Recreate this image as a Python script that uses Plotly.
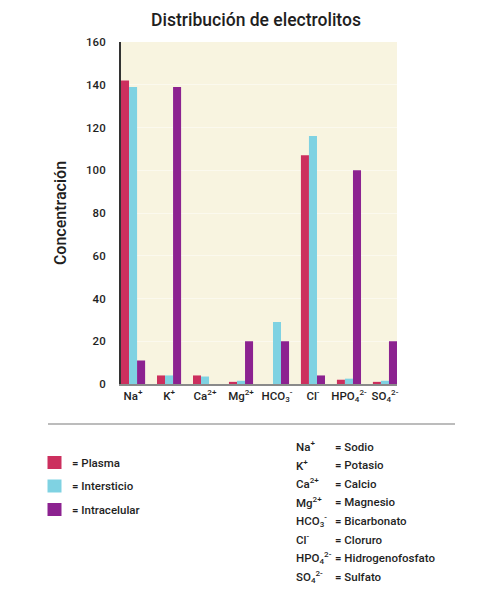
import plotly.graph_objects as go

categories = ["Na<sup>+</sup>", "K<sup>+</sup>", "Ca<sup>2+</sup>", "Mg<sup>2+</sup>",
              "HCO<sub>3</sub><sup>-</sup>", "Cl<sup>-</sup>", "HPO<sub>4</sub><sup>2-</sup>",
              "SO<sub>4</sub><sup>2-</sup>"]
plasma = [142, 4, 4, 1, 0, 107, 2, 1]
intersticio = [139, 4, 3.5, 1.5, 29, 116, 2.5, 1.5]
intracelular = [11, 139, 0, 20, 20, 4, 100, 20]

series_names = ["Plasma", "Intersticio", "Intracelular"]
series_colors = ["#cc2f5e", "#7fd2e2", "#8c2290"]

key_symbols = ["Na<sup>+</sup>", "K<sup>+</sup>", "Ca<sup>2+</sup>", "Mg<sup>2+</sup>",
               "HCO<sub>3</sub><sup>-</sup>", "Cl<sup>-</sup>", "HPO<sub>4</sub><sup>2-</sup>",
               "SO<sub>4</sub><sup>2-</sup>"]
key_names = ["Sodio", "Potasio", "Calcio", "Magnesio", "Bicarbonato", "Cloruro",
             "Hidrogenofosfato", "Sulfato"]

W, H = 504, 600
OFF = 8  # page body margin
FONT = "Roboto Medium, Roboto, sans-serif"
TXT = "#1f1f1f"
FS = 11.5

PL, PT, PW, PH = 121 - OFF, 42 - OFF, 276, 342
PB = PT + PH


def px(x):
    return (x - OFF - PL) / PW


def py(y):
    return (PB - (y - OFF)) / PH


fig = go.Figure()
for name, vals, col in zip(series_names, [plasma, intersticio, intracelular], series_colors):
    fig.add_trace(go.Bar(x=list(range(len(categories))), y=vals, name=name,
                         marker=dict(color=col, line=dict(width=0)), showlegend=False))

fig.update_layout(
    width=W, height=H,
    margin=dict(l=PL, r=W - PL - PW, t=PT, b=H - PB),
    paper_bgcolor="white",
    plot_bgcolor="#f8f4e0",
    barmode="group", bargap=0.33, bargroupgap=0,
    font=dict(family=FONT, color=TXT),
    title=dict(text="Distribución de electrolitos", x=(256 - OFF) / W, xanchor="center",
               y=1 - (20 - OFF) / H, yanchor="middle", font=dict(size=17.5, color=TXT)),
    xaxis=dict(range=[-0.335, 7.335], tickmode="array",
               tickvals=list(range(len(categories))), ticktext=categories,
               showgrid=False, zeroline=False, showline=True, linecolor="#8a8a8a",
               linewidth=1.5, ticks="", tickfont=dict(size=FS, color=TXT)),
    yaxis=dict(range=[0, 160], dtick=20, showgrid=True, gridcolor="#fbf9ee", gridwidth=1,
               zeroline=False, showline=True, linecolor="#333333", linewidth=2,
               ticks="", ticklabelstandoff=11,
               tickfont=dict(size=FS, color=TXT),
               title=dict(text="Concentración", standoff=15,
                          font=dict(size=16, color=TXT))),
)

shapes = [dict(type="line", xref="paper", yref="paper",
               x0=px(48), x1=px(455), y0=py(424), y1=py(424),
               line=dict(color="#7a7a7a", width=1.2))]
annotations = []

# Legend (series)
leg_y = [462.5, 486, 509.5]
for name, col, yy in zip(series_names, series_colors, leg_y):
    shapes.append(dict(type="rect", xref="paper", yref="paper",
                       x0=px(47.5), x1=px(61.5), y0=py(yy - 6.5), y1=py(yy + 6.5),
                       fillcolor=col, line=dict(width=0)))
    annotations.append(dict(xref="paper", yref="paper", x=px(70), y=py(yy),
                            xanchor="left", yanchor="middle",
                            text="= " + name, showarrow=False,
                            font=dict(size=FS, color=TXT)))

# Key of symbols
for i, (sym, nm) in enumerate(zip(key_symbols, key_names)):
    yy = 446.7 + i * 18.57
    annotations.append(dict(xref="paper", yref="paper", x=px(294), y=py(yy),
                            xanchor="left", yanchor="middle",
                            text=sym, showarrow=False,
                            font=dict(size=FS, color=TXT)))
    annotations.append(dict(xref="paper", yref="paper", x=px(333), y=py(yy),
                            xanchor="left", yanchor="middle",
                            text="= " + nm, showarrow=False,
                            font=dict(size=FS, color=TXT)))

fig.update_layout(shapes=shapes, annotations=annotations)
fig.write_html("out.html")
